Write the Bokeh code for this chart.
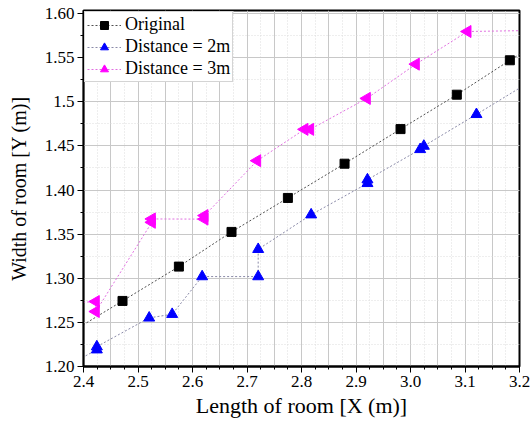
import math
from bokeh.plotting import figure
from bokeh.models import FixedTicker, Range1d, Legend, Title
from bokeh.embed import file_html
from bokeh.resources import INLINE

# ---- data ----
orig_x = [2.368, 2.4716, 2.575, 2.6716, 2.775, 2.879, 2.9817, 3.085, 3.1823, 3.2857]
orig_y = [1.2354, 1.2743, 1.3132, 1.3525, 1.391, 1.4298, 1.469, 1.508, 1.547, 1.586]

d2_x = [2.32, 2.4245, 2.4245, 2.5205, 2.5627, 2.6177, 2.7205, 2.7205, 2.8177, 2.921, 2.921, 3.0177, 3.0245, 3.121, 3.22]
d2_y = [1.184, 1.219, 1.2225, 1.2551, 1.2592, 1.3019, 1.3019, 1.3328, 1.372, 1.4075, 1.4117, 1.446, 1.4498, 1.4857, 1.523]

d3_x = [2.37, 2.4226, 2.4226, 2.5254, 2.5254, 2.622, 2.622, 2.7187, 2.8055, 2.8159, 2.9199, 3.0098, 3.1046, 3.25]
d3_y = [1.2717, 1.2736, 1.2623, 1.3634, 1.3672, 1.367, 1.371, 1.4332, 1.4687, 1.4687, 1.5038, 1.5426, 1.5796, 1.581]

x_ticks = [2.4, 2.5, 2.6, 2.7, 2.8, 2.9, 3.0, 3.1, 3.2]
x_tick_labels = ["2.4", "2.5", "2.6", "2.7", "2.8", "2.9", "3.0", "3.1", "3.2"]
y_ticks = [1.20, 1.25, 1.30, 1.35, 1.40, 1.45, 1.50, 1.55, 1.60]
y_tick_labels = ["1.20", "1.25", "1.30", "1.35", "1.40", "1.45", "1.5", "1.55", "1.60"]

x_title = "Length of room [X (m)]"
y_title = "Width of room [Y (m)]"

FONT = "'Liberation Serif'"

p = figure(width=531, height=422, output_backend="svg", toolbar_location=None,
           x_range=Range1d(2.4, 3.2), y_range=Range1d(1.20, 1.6034),
           min_border_left=83, min_border_right=12, min_border_top=10, min_border_bottom=56)
p.background_fill_color = "white"
p.border_fill_color = "white"
p.outline_line_color = "black"
p.outline_line_width = 2

# ticks
x_minor = [round(2.4 + 0.025 * i, 3) for i in range(33)]
y_minor = [round(1.2 + 0.025 * i, 3) for i in range(17)]
p.xaxis.ticker = FixedTicker(ticks=x_ticks, minor_ticks=x_minor)
p.yaxis.ticker = FixedTicker(ticks=y_ticks, minor_ticks=y_minor)
p.xaxis.major_label_overrides = {t: l for t, l in zip(x_ticks, x_tick_labels)}
p.yaxis.major_label_overrides = {t: l for t, l in zip(y_ticks, y_tick_labels)}

# grids: solid every 0.05, dotted every 0.025
x_grid_major = [round(2.4 + 0.05 * i, 3) for i in range(17)]
p.xgrid.ticker = FixedTicker(ticks=x_grid_major, minor_ticks=x_minor)
p.ygrid.ticker = FixedTicker(ticks=y_ticks, minor_ticks=y_minor)
for g in (p.xgrid, p.ygrid):
    g.grid_line_color = "#c8c8c8"
    g.grid_line_width = 1
    g.minor_grid_line_color = "#dcdcdc"
    g.minor_grid_line_dash = "1 2"
    g.minor_grid_line_width = 1

for ax in (p.xaxis, p.yaxis):
    ax.axis_line_color = "black"
    ax.major_tick_line_color = "black"
    ax.minor_tick_line_color = "black"
    ax.major_tick_out = 6
    ax.major_tick_in = 0
    ax.minor_tick_out = 3
    ax.minor_tick_in = 0
    ax.major_label_text_font = FONT
    ax.major_label_text_font_size = "17px"
    ax.major_label_text_color = "black"
    ax.axis_label_text_font = FONT
    ax.axis_label_text_font_style = "normal"
    ax.axis_label_text_color = "black"
    ax.major_label_standoff = 3

p.xaxis.axis_line_width = 2
p.yaxis.axis_line_width = 1.5
p.yaxis.axis_label = y_title
p.yaxis.axis_label_text_font_size = "20px"
p.yaxis.axis_label_standoff = 12

# x-axis title as a title panel below the axis
p.add_layout(Title(text=x_title, align="center", text_font=FONT, text_font_size="22px",
                   text_font_style="normal", text_color="black", standoff=2), "below")

# series
l1 = p.line(orig_x, orig_y, line_color="#505050", line_dash="2 2", line_width=1)
s1 = p.scatter(orig_x, orig_y, marker="square", size=9, fill_color="black", line_color="black")
l2 = p.line(d2_x, d2_y, line_color="#8a8aa8", line_dash="2 2", line_width=1)
s2 = p.scatter(d2_x, d2_y, marker="triangle", size=11, fill_color="#0000ff", line_color="#0000ff")
l3 = p.line(d3_x, d3_y, line_color="#e070e0", line_dash="2 2", line_width=1)
s3 = p.scatter(d3_x, d3_y, marker="triangle", size=12, angle=math.pi / 2,
               fill_color="#ff00ff", line_color="#ff00ff")

legend = Legend(items=[("Original", [l1, s1]), ("Distance = 2m", [l2, s2]), ("Distance = 3m", [l3, s3])],
                location="top_left")
legend.margin = 1
legend.padding = 2
legend.spacing = 1
legend.glyph_width = 34
legend.glyph_height = 20
legend.label_height = 20
legend.label_standoff = 4
legend.label_text_font = FONT
legend.label_text_font_size = "18px"
legend.label_text_color = "black"
legend.border_line_color = "#aaaaaa"
legend.border_line_width = 1
legend.background_fill_color = "white"
legend.background_fill_alpha = 1.0
p.add_layout(legend)

open("out.html", "w").write(file_html(p, INLINE))
